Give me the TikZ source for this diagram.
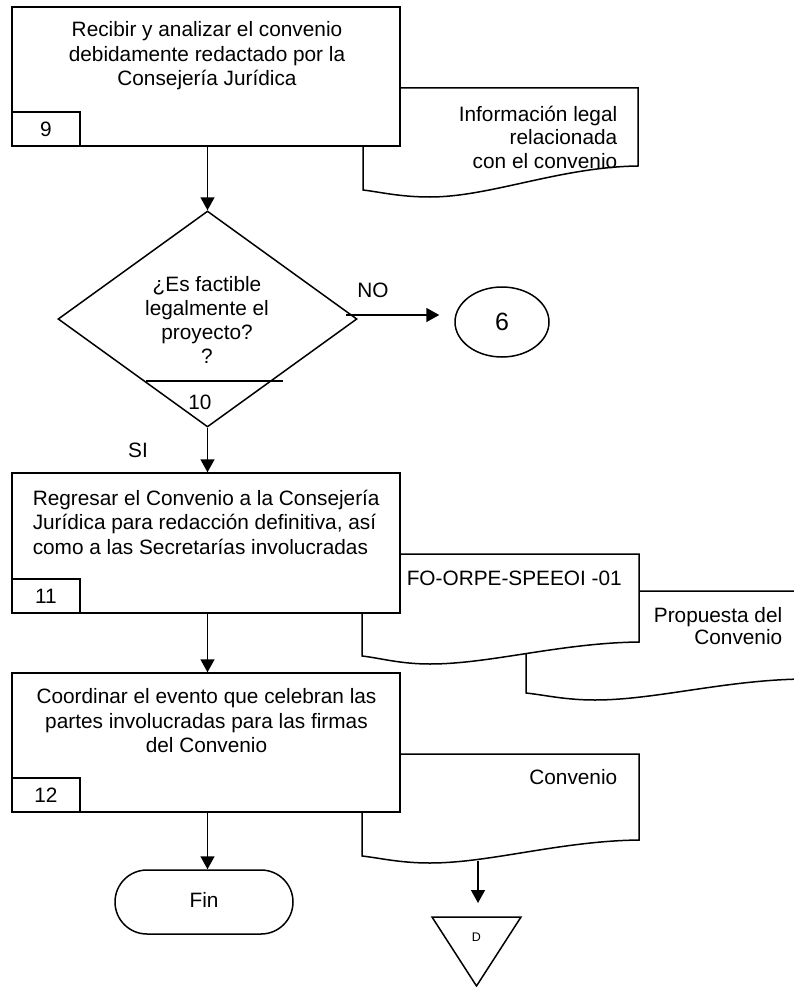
\documentclass[tikz,border=0pt]{standalone}
\usepackage{fontspec}
\setmainfont{Liberation Sans}
\usetikzlibrary{arrows.meta,shapes.geometric}
\begin{document}
\begin{tikzpicture}[x=1pt,y=-1pt,
  line width=1.5pt,
  every node/.style={font=\fontsize{20.8}{24.5}\selectfont, inner sep=0pt},
  procbox/.style={draw, fill=white, minimum width=388pt, minimum height=139pt},
  numbox/.style={draw, fill=white, minimum width=68pt, minimum height=34pt, anchor=south west},
  numtext/.style={font=\fontsize{20.8}{24.5}\selectfont},
  doc/.style={draw, fill=white},
  flow/.style={-{Triangle[width=14pt,length=13pt]}},
  decision/.style={draw, diamond, minimum width=299pt, minimum height=216pt},
  connector/.style={draw, ellipse, minimum width=94pt, minimum height=70pt},
  terminal/.style={draw, rounded corners=32pt, minimum width=178pt, minimum height=64pt},
]
\useasboundingbox (0,0) rectangle (794,987);

% --- step 9 and its document
\path[doc] (363,88) -- (638,88) -- (638,166)
  .. controls (560,167) and (490,197) .. (430,197)
  .. controls (400,197) and (380,192) .. (363,190) -- cycle;
\node[anchor=east, align=right, font=\fontsize{20.8}{23.5}\selectfont] (infolegal) at (618,137)
  {Información legal\\relacionada\\con el convenio};

\node[procbox] (b9) at (206,76.5) {};
\node[align=center] (t9) at (207,56)
  {Recibir y analizar el convenio\\debidamente redactado por la\\Consejería Jurídica};
\node[numbox] (n9) at (b9.south west) {};
\node[numtext] at (n9.center) {9};

% --- decision 10
\node[decision] (dec) at (207.5,319) {};
\node[align=center, font=\fontsize{20.8}{24}\selectfont] (q10) at (207,320)
  {¿Es factible\\legalmente el\\proyecto?\\?};
\coordinate (cutL) at (146,381);
\coordinate (cutR) at (283,381);
\draw (cutL) -- (cutR);
\node (n10) at (200,402) {10};

\node[connector] (c6) at (502,322) {};
\node[font=\fontsize{25}{30}\selectfont] at (c6.center) {6};
\coordinate (noStart) at (346,315);
\draw[flow, shorten >=15pt] (noStart) -- (noStart -| c6.west);
\node (no) at (373,290) {NO};
\node (si) at (138,450) {SI};

% --- step 11 and its documents
\path[doc] (526,591) -- (803,591) -- (803,679)
  .. controls (725,680) and (655,700) .. (595,700)
  .. controls (565,700) and (545,695) .. (526,693) -- cycle;
\node[anchor=east, align=right, font=\fontsize{20.8}{22}\selectfont] (propuesta) at (783,626)
  {Propuesta del\\Convenio};
\path[doc] (362,554) -- (639,554) -- (639,642)
  .. controls (560,643) and (490,664) .. (430,664)
  .. controls (400,664) and (380,658) .. (362,656) -- cycle;
\node[anchor=west] (fo) at (406,578) {FO-ORPE-SPEEOI -01};

\node[procbox, minimum height=140pt] (b11) at (206,543) {};
\node[anchor=west, align=left] (t11) at (32,522)
  {Regresar el Convenio a la Consejería\\Jurídica para redacción definitiva, así\\como a las Secretarías involucradas};
\node[numbox] (n11) at (b11.south west) {};
\node[numtext] at (n11.center) {11};

% --- step 12 and its document
\path[doc] (362,754) -- (639,754) -- (639,840)
  .. controls (560,841) and (490,863) .. (430,863)
  .. controls (400,863) and (380,858) .. (362,856) -- cycle;
\node[anchor=east] (convenio) at (618,777) {Convenio};
\coordinate (docout) at (478,861);

\node[procbox] (b12) at (206,742.5) {};
\node[align=center] (t12) at (206.5,721)
  {Coordinar el evento que celebran las\\partes involucradas para las firmas\\del Convenio};
\node[numbox] (n12) at (b12.south west) {};
\node[numtext] at (n12.center) {12};

% --- end and archive
\node[terminal] (fin) at (204,902) {};
\node at (204,900) {Fin};

\coordinate (triTop) at (476.5,917);
\draw (432,917) -- (521,917) -- (476.5,986) -- cycle;
\node[font=\fontsize{12.5}{15}\selectfont] (d) at (476.5,937) {D};

% --- flow lines
\draw[flow] (dec.north |- b9.south) -- (dec.north);
\draw[flow] (dec.south) -- (dec.south |- b11.north);
\draw[flow] (dec.south |- b11.south) -- (dec.south |- b12.north);
\draw[flow] (dec.south |- b12.south) -- (dec.south |- fin.north);
\draw[flow, shorten >=14pt] (docout) -- (docout |- triTop);
\end{tikzpicture}
\end{document}
